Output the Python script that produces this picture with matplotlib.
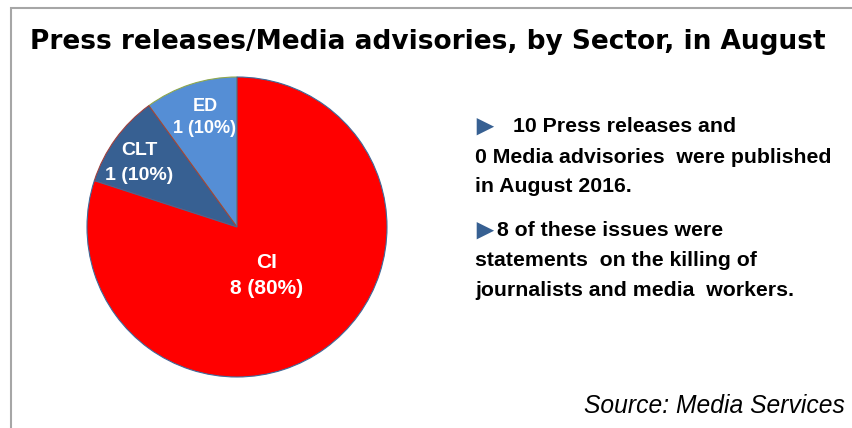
import numpy as np
import matplotlib.pyplot as plt
from matplotlib.patches import Rectangle

#   Sector breakdown of press releases / media advisories for the month
sectors     =   ["ED", "CLT", "CI"]
counts      =   [1, 1, 8]
sector_cols =   ["#558ED5", "#376092", "#FF0000"]
edge_cols   =   ["#8FA84E", "#A0413F", "#3F6A9A"]
label_dist  =   [0.76, 0.78, 0.38]
label_turn  =   [-1.6, 2.9, -4.5]
label_size  =   [13, 14, 15]
label_lsp   =   [1.43, 1.6, 1.5]

title_text  =   "Press releases/Media advisories, by Sector, in August"
notes       =   [["10 Press releases and",
                  "0 Media advisories  were published",
                  "in August 2016."],
                 ["8 of these issues were",
                  "statements  on the killing of",
                  "journalists and media  workers."]]
source_text =   "Source: Media Services"

W, H = 852, 428

fig = plt.figure(figsize=(W / 100, H / 100), dpi=100)
fig.patch.set_facecolor("white")

#   Outer frame (open to the right and bottom edges of the image)
fig.add_artist(Rectangle((10.5 / W, -0.1), 1.2, (H - 8.5) / H + 0.1,
                         transform=fig.transFigure, fill=False,
                         edgecolor="#A6A6A6", linewidth=1.5))

fig.text(30 / W, 1 - 42 / H, title_text, ha="left", va="center",
         fontsize=19, fontweight="bold", family="DejaVu Sans")

#   Pie axes: centre (237, 227) px, radius 150 px
cx, cy, r = 237, 227, 150
ax = fig.add_axes([(cx - r) / W, (H - cy - r) / H, 2 * r / W, 2 * r / H])
total = sum(counts)
wedges, _ = ax.pie(counts, colors=sector_cols, startangle=90,
                   counterclock=True, radius=1.0,
                   wedgeprops=dict(linewidth=0.8))
for w, ec in zip(wedges, edge_cols):
    w.set_edgecolor(ec)
ax.set_xlim(-1, 1)
ax.set_ylim(-1, 1)
ax.set_aspect("equal")
ax.axis("off")

for w, name, n, d, turn, fs, lsp in zip(wedges, sectors, counts, label_dist,
                                        label_turn, label_size, label_lsp):
    mid = np.deg2rad((w.theta1 + w.theta2) / 2 + turn)
    ax.text(d * np.cos(mid), d * np.sin(mid),
            "{}\n{} ({:.0f}%)".format(name, n, 100.0 * n / total),
            ha="center", va="center", color="white", fontsize=fs,
            fontweight="bold", family="Liberation Sans", linespacing=lsp)

#   Bullet notes on the right: arrow, then first line beside it
line_y = [[127, 157, 187], [231, 261, 291]]
first_x = [513, 497]
for para, ys, fx in zip(notes, line_y, first_x):
    fig.text(470 / W, 1 - (ys[0] + 1) / H, "\u25BA", ha="left", va="center",
             fontsize=21, color="#376092",
             family=["Liberation Sans", "DejaVu Sans"])
    for k, (txt, y) in enumerate(zip(para, ys)):
        x0 = fx if k == 0 else 475
        fig.text(x0 / W, 1 - y / H, txt, ha="left", va="center",
                 fontsize=15.3, fontweight="bold", family="Liberation Sans")

fig.text(845 / W, 1 - 406 / H, source_text, ha="right", va="center",
         fontsize=17.7, style="italic", family="Liberation Sans")

fig.savefig("out.png", dpi=100)
